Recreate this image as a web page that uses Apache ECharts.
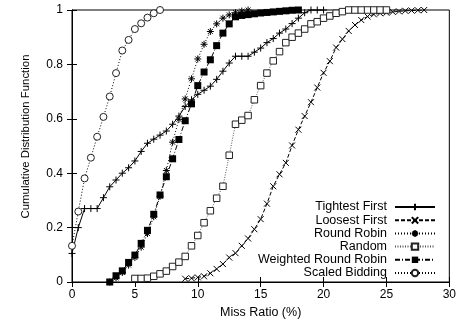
<!DOCTYPE html>
<html>
<head>
<meta charset="utf-8">
<script src="https://cdn.jsdelivr.net/npm/echarts@6/dist/echarts.min.js"></script>
<style>
html,body{margin:0;padding:0;background:#fff;}
#chart{width:459px;height:324px;}
</style>
</head>
<body>
<div id="chart"></div>
<script>
// ---- data (Miss Ratio %, CDF) ----
const seriesNames = ['Tightest First','Loosest First','Round Robin','Random','Weighted Round Robin','Scaled Bidding'];
const xTicks = [0,5,10,15,20,25,30];
const yTicks = [0,0.2,0.4,0.6,0.8,1];

const tightestX = [0,0.5,1,1.5,2,2.5,3,3.5,4,4.5,5,5.5,6,6.5,7,7.5,8,8.5,9,9.5,10,10.5,11,11.5,12,12.5,13,13.5,14,14.5,15,15.5,16,16.5,17,17.5,18,18.5,19,19.5,20];
const tightestY = [0.105,0.2,0.27,0.27,0.27,0.31,0.35,0.375,0.4,0.42,0.445,0.48,0.51,0.525,0.54,0.555,0.58,0.61,0.645,0.67,0.69,0.705,0.72,0.745,0.775,0.805,0.83,0.83,0.83,0.845,0.86,0.88,0.895,0.915,0.93,0.95,0.97,0.99,1,1,1];

const loosestX = [9,9.5,10,10.5,11,11.5,12,12.5,13,13.5,14,14.5,15,15.5,16,16.5,17,17.5,18,18.5,19,19.5,20,20.5,21,21.5,22,22.5,23,23.5,24,24.5,25,25.5,26,26.5,27,27.5,28];
const loosestY = [0.012,0.014,0.017,0.021,0.032,0.048,0.066,0.09,0.106,0.133,0.16,0.194,0.231,0.288,0.352,0.396,0.438,0.502,0.56,0.61,0.661,0.715,0.769,0.812,0.862,0.893,0.923,0.945,0.963,0.976,0.984,0.988,0.99,0.993,0.995,0.997,0.998,0.999,1];

const rrX = [3,3.5,4,4.5,5,5.5,6,6.5,7,7.5,8,8.5,9,9.5,10,10.5,11,11.5,12,12.5,13,13.5,14];
const rrY = [0,0.015,0.035,0.062,0.09,0.128,0.178,0.24,0.315,0.41,0.514,0.598,0.673,0.747,0.82,0.874,0.921,0.949,0.97,0.982,0.99,0.996,1];

const randomX = [5,5.5,6,6.5,7,7.5,8,8.5,9,9.5,10,10.5,11,11.5,12,12.5,13,13.5,14,14.5,15,15.5,16,16.5,17,17.5,18,18.5,19,19.5,20,20.5,21,21.5,22,22.5,23,23.5,24,24.5,25];
const randomY = [0.013,0.013,0.014,0.021,0.03,0.04,0.057,0.073,0.094,0.133,0.171,0.218,0.262,0.308,0.352,0.466,0.58,0.595,0.612,0.67,0.722,0.768,0.813,0.847,0.88,0.9,0.915,0.93,0.949,0.957,0.97,0.978,0.988,0.994,1,1,1,1,1,1,1];

const wrrX = [3,3.5,4,4.5,5,5.5,6,6.5,7,7.5,8,8.5,9,9.5,10,10.5,11,11.5,12,12.5,13,13.5,14,14.5,15,15.5,16,16.5,17,17.5,18];
const wrrY = [0,0.023,0.041,0.072,0.099,0.142,0.19,0.249,0.32,0.387,0.453,0.524,0.593,0.655,0.722,0.772,0.817,0.869,0.915,0.949,0.975,0.98,0.983,0.986,0.989,0.991,0.993,0.995,0.997,0.999,1];

const sbX = [0,0.5,1,1.5,2,2.5,3,3.5,4,4.5,5,5.5,6,6.5,7];
const sbY = [0.133,0.259,0.381,0.457,0.534,0.607,0.682,0.768,0.851,0.89,0.93,0.951,0.972,0.988,1];

function pairs(xs, ys){ return xs.map((x,i)=>[x, ys[i]]); }

const PLUS = 'path://M0,5L10,5M5,0L5,10';
const CROSS = 'path://M0,0L10,10M10,0L0,10';
const STAR = 'path://M0,5L10,5M5,0L5,10M1.5,1.5L8.5,8.5M8.5,1.5L1.5,8.5';
const SQUARE = 'path://M0,0L10,0L10,10L0,10Z';
const CIRCLE = 'path://M10,5A5,5,0,1,1,0,5A5,5,0,1,1,10,5Z';

const FONT = 'Liberation Sans';

function mk(name, data, symbol, size, lineType, color, itemStyle){
  return {
    name: name, type: 'line', data: data,
    symbol: symbol, symbolSize: size, showSymbol: true,
    lineStyle: {color: color, width: 1, type: lineType},
    itemStyle: itemStyle,
    emphasis: {disabled: true},
    z: 2
  };
}

const chart = echarts.init(document.getElementById('chart'), null, {renderer:'canvas'});

const axisCommon = {
  type: 'value',
  axisLine: {show: true, lineStyle: {color: '#000', width: 1}},
  axisTick: {show: true, inside: true, length: 5, lineStyle: {color: '#000'}},
  splitLine: {show: false}
};

// one legend component per row, so rows sit exactly where the reference has them
const legendRowCenters = [207, 220.3, 233.5, 246.6, 259.8, 273];
const legends = seriesNames.map((n, i) => ({
  data: [n],
  orient: 'vertical',
  align: 'right',
  right: 23,
  top: legendRowCenters[i] - 6.5,
  padding: 0,
  itemWidth: 40,
  itemHeight: 8,
  textStyle: {fontFamily: FONT, fontSize: 12.5, color: '#000', lineHeight: 13, padding: [0, 3, 0, 0]},
  selectedMode: false
}));

const option = {
  animation: false,
  backgroundColor: '#fff',
  textStyle: {fontFamily: FONT},
  grid: {left: 72, right: 7, top: 10, bottom: 41, show: true, borderColor: '#000', borderWidth: 1},
  legend: legends,
  xAxis: [
    Object.assign({}, axisCommon, {
      position: 'bottom', min: xTicks[0], max: xTicks[xTicks.length-1], interval: xTicks[1]-xTicks[0],
      name: 'Miss Ratio (%)', nameLocation: 'middle', nameGap: 24,
      nameTextStyle: {fontFamily: FONT, fontSize: 12.5, color: '#000'},
      axisLabel: {color: '#000', fontSize: 12, fontFamily: FONT, margin: 7}
    }),
    Object.assign({}, axisCommon, {
      position: 'top', min: xTicks[0], max: xTicks[xTicks.length-1], interval: xTicks[1]-xTicks[0],
      axisLabel: {show: false}
    })
  ],
  yAxis: [
    Object.assign({}, axisCommon, {
      position: 'left', min: yTicks[0], max: yTicks[yTicks.length-1], interval: yTicks[1]-yTicks[0],
      name: 'Cumulative Distribution Function', nameLocation: 'middle', nameGap: 41,
      nameTextStyle: {fontFamily: FONT, fontSize: 11.4, color: '#000', padding: [0,0,0,19]},
      axisLabel: {color: '#000', fontSize: 12, fontFamily: FONT, margin: 9}
    }),
    Object.assign({}, axisCommon, {
      position: 'right', min: yTicks[0], max: yTicks[yTicks.length-1], interval: yTicks[1]-yTicks[0],
      axisLabel: {show: false}
    })
  ],
  series: [
    mk(seriesNames[0], pairs(tightestX, tightestY), PLUS, 7, 'solid', '#000', {color:'#000', borderColor:'#000', borderWidth:1}),
    mk(seriesNames[1], pairs(loosestX, loosestY), CROSS, 6, [4,2], '#000', {color:'#000', borderColor:'#000', borderWidth:1}),
    mk(seriesNames[2], pairs(rrX, rrY), STAR, 7, [1,2], '#000', {color:'#000', borderColor:'#000', borderWidth:1}),
    mk(seriesNames[3], pairs(randomX, randomY), SQUARE, 6.5, [1,1.5], '#555', {color:'#fff', borderColor:'#222', borderWidth:1}),
    mk(seriesNames[4], pairs(wrrX, wrrY), 'rect', 7, [5,2,1,2], '#000', {color:'#000'}),
    mk(seriesNames[5], pairs(sbX, sbY), CIRCLE, 7, [1,2], '#000', {color:'#fff', borderColor:'#222', borderWidth:1})
  ]
};
chart.setOption(option);
</script>
</body>
</html>
